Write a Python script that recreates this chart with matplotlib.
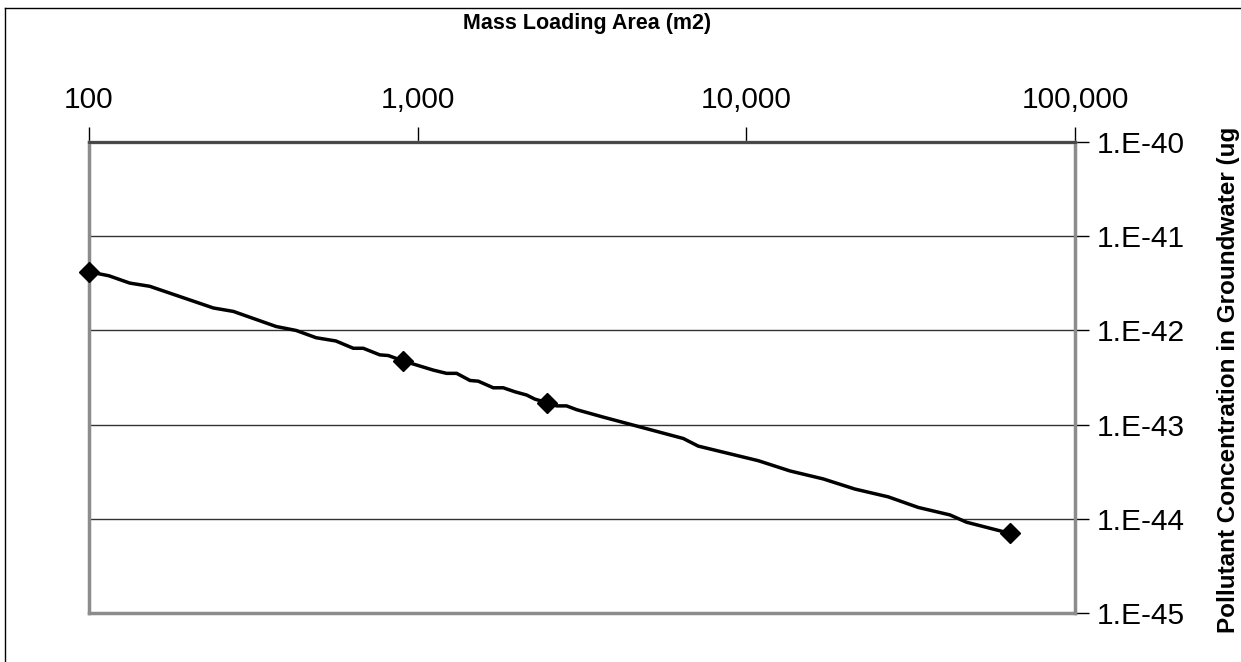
import math
import matplotlib
matplotlib.use("Agg")
import matplotlib.pyplot as plt
from matplotlib.lines import Line2D
from matplotlib.ticker import FixedLocator, FuncFormatter, NullLocator

# mass loading area (m2) and concentration
area = [100, 115, 133, 153, 239, 275, 371, 427, 491, 564, 637, 683, 767, 814,
        900, 1115, 1224, 1314, 1443, 1529, 1698, 1821, 1977, 2146, 2276, 2479,
        2648, 2838, 3046, 3673, 6430, 7141, 10870, 13580, 17140, 21390, 27020,
        33350, 41620, 46770, 63400]
conc = [4.19e-42, 3.80e-42, 3.18e-42, 2.94e-42, 1.73e-42, 1.59e-42, 1.10e-42,
        9.98e-43, 8.36e-43, 7.72e-43, 6.46e-43, 6.46e-43, 5.50e-43, 5.41e-43,
        4.76e-43, 3.79e-43, 3.50e-43, 3.50e-43, 2.94e-43, 2.89e-43, 2.46e-43,
        2.46e-43, 2.23e-43, 2.06e-43, 1.86e-43, 1.71e-43, 1.58e-43, 1.58e-43,
        1.44e-43, 1.20e-43, 7.12e-44, 5.91e-44, 4.14e-44, 3.22e-44, 2.65e-44,
        2.07e-44, 1.71e-44, 1.32e-44, 1.10e-44, 9.2e-45, 7.0e-45]

# points carrying a marker
marker_area = [100, 900, 2479, 63400]
marker_conc = [4.19e-42, 4.76e-43, 1.71e-43, 7.0e-45]

x_ticks = [100, 1000, 10000, 100000]
y_ticks = [1e-45, 1e-44, 1e-43, 1e-42, 1e-41, 1e-40]

plt.rcParams['font.family'] = ['Liberation Sans', 'DejaVu Sans']

W, H = 1241, 662
fig = plt.figure(figsize=(W / 100, H / 100), dpi=100)
ax = fig.add_axes([89 / W, 1 - 613 / H, (1075 - 89) / W, (613 - 142) / H])

ax.plot(area, conc, color="black", lw=2.5, solid_joinstyle="miter", zorder=3)
ax.plot(marker_area, marker_conc, ls="none", marker="D", ms=10,
        color="black", zorder=4, clip_on=False)

ax.set_xscale("log")
ax.set_yscale("log")
ax.set_xlim(100, 100000)
ax.set_ylim(1e-45, 1e-40)

ax.xaxis.tick_top()
ax.yaxis.tick_right()
ax.xaxis.set_major_locator(FixedLocator(x_ticks))
ax.xaxis.set_minor_locator(NullLocator())
ax.yaxis.set_major_locator(FixedLocator(y_ticks))
ax.yaxis.set_minor_locator(NullLocator())
ax.xaxis.set_major_formatter(FuncFormatter(lambda v, p: f"{v:,.0f}"))
ax.yaxis.set_major_formatter(
    FuncFormatter(lambda v, p: "1.E-%02d" % round(-math.log10(v))))

ax.tick_params(axis="x", which="major", direction="out", length=11, width=1,
               pad=9, labelsize=21.5, colors="black")
ax.tick_params(axis="y", which="major", direction="out", length=10, width=1,
               pad=6, labelsize=21.5, colors="black")

for s in ax.spines.values():
    s.set_color("#8c8c8c")
    s.set_linewidth(2.5)

ax.grid(True, axis="y", color="#333333", lw=1)
ax.grid(False, axis="x")
ax.set_axisbelow(True)
# top gridline sits over the gray frame
ax.axhline(y_ticks[-1], color="#444444", lw=2, zorder=5, clip_on=False)

# axis titles
fig.text(587 / W, 1 - 23 / H, "Mass Loading Area (m2)", ha="center",
         va="center", fontsize=15.5, fontweight="bold")
fig.text(1240 / W, 1 - 633 / H, "Pollutant Concentration in Groundwater (ug",
         rotation=90, ha="right", va="bottom", fontsize=17.5,
         fontweight="bold")

# outer chart border (cut at right and bottom)
fig.add_artist(Line2D([4.5 / W, 4.5 / W], [0, 1 - 7.5 / H],
                      transform=fig.transFigure, color="black", lw=1))
fig.add_artist(Line2D([4.5 / W, 1], [1 - 7.5 / H, 1 - 7.5 / H],
                      transform=fig.transFigure, color="black", lw=1))

fig.savefig("out.png", dpi=100)
